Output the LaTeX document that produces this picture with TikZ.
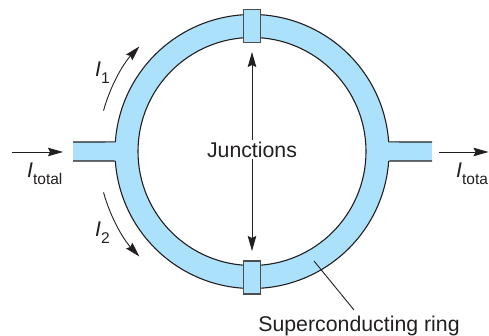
\documentclass[tikz,border=0pt]{standalone}
\usepackage{fontspec}
\setmainfont{Liberation Sans}
\usetikzlibrary{arrows.meta,calc}
\definecolor{ringblue}{HTML}{ABE1FA}
\definecolor{inkline}{HTML}{231F20}
\tikzset{
  x=1pt,y=1pt,
  wall/.style={draw=inkline,line width=1.1pt},
  joint/.style={draw=inkline!80,line width=1.3pt,fill=ringblue,minimum width=16.5pt,minimum height=33pt,inner sep=0pt},
  pointer/.style={draw=inkline,line width=0.9pt,-{Stealth[length=15pt,width=8.5pt,inset=2pt]}},
  txt/.style={inner sep=0pt,font=\fontsize{21.3}{24}\selectfont,text=inkline}
}
\newcommand{\Cur}[1]{\textit{I}\raisebox{-0.3em}{\fontsize{15.5}{18}\selectfont #1}}
\begin{document}
\begin{tikzpicture}
\useasboundingbox (0,0) rectangle (489,336);
\coordinate (c) at (252,184.5);
% ring and stubs
\fill[ringblue,even odd rule] (c) circle[radius=137] (c) circle[radius=114];
\fill[ringblue] (73,175) rectangle (120,194);
\fill[ringblue] (384,175) rectangle (432,194);
\draw[wall] (c) circle[radius=114];
\draw[wall] ($(c)+(4:137)$) arc[start angle=4,end angle=176,radius=137];
\draw[wall] ($(c)+(184:137)$) arc[start angle=184,end angle=356,radius=137];
\draw[wall] (73,194) -- ($(c)+(176:137)$) (73,175) -- ($(c)+(184:137)$);
\draw[wall] (432,194) -- ($(c)+(4:137)$) (432,175) -- ($(c)+(-4:137)$);
\node[joint] (topj) at (252,310) {};
\node[joint] (botj) at (252,58.5) {};
% labels
\node[txt] (junc) at (252,186.5) {Junctions};
\node[txt,anchor=base] (ring) at (359,4.5) {Superconducting ring};
\node[txt,anchor=base west] (itot) at (27,158) {\Cur{total}};
\node[txt,anchor=base west] (itota) at (456,158) {\Cur{tota}};
\node[txt,anchor=base west] (ione) at (95,259) {\Cur{1}};
\node[txt,anchor=base west] (itwo) at (95,99) {\Cur{2}};
% connectors
\coordinate (ja) at (252,284);
\coordinate (jb) at (252,85);
\draw[pointer] (junc.north) ++(0,1) -- (ja);
\draw[pointer] (junc.south) ++(0,-1) -- (jb);
\coordinate (ia) at (12,184);
\coordinate (ib) at (63,184);
\coordinate (oa) at (439,184);
\coordinate (ob) at (488.5,184);
\draw[pointer] (ia) -- (ib);
\draw[pointer] (oa) -- (ob);
\coordinate (ra) at (314,75);
\coordinate (rb) at (354,26);
\draw[draw=inkline,line width=0.9pt] (ra) -- (rb);
\coordinate (ua) at ($(c)+(164.6:154)$);
\coordinate (la) at ($(c)+(195.4:154)$);
\draw[pointer] (ua) arc[start angle=164.6,end angle=137,radius=154];
\draw[pointer] (la) arc[start angle=195.4,end angle=223,radius=154];
\end{tikzpicture}
\end{document}
